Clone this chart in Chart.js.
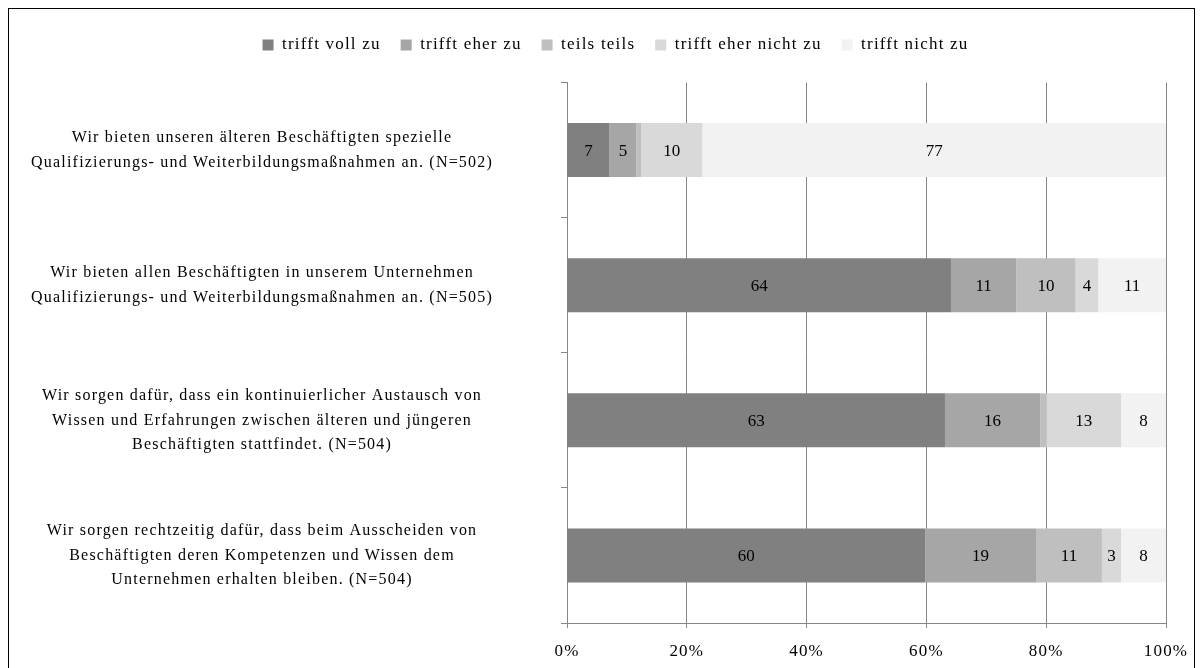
<!DOCTYPE html>
<html>
<head>
<meta charset="utf-8">
<script src="https://cdn.jsdelivr.net/npm/chart.js@4"></script>
<style>
  html, body { margin: 0; padding: 0; background: #fff; }
  /* Rahmen wie im Original */
  .frame {
    position: absolute;
    left: 8px; top: 8px;
    width: 1185px; height: 662px;
    border: 1px solid #000;
    background: #fff;
  }
  .frame canvas { display: block; }
</style>
</head>
<body>
<div class="frame">
  <canvas id="chart" width="1185" height="659"></canvas>
</div>
<script>
// ===== DATEN =====
const statements = [
    ['Wir bieten unseren älteren Beschäftigten spezielle', 'Qualifizierungs- und Weiterbildungsmaßnahmen an. (N=502)'],
    ['Wir bieten allen Beschäftigten in unserem Unternehmen', 'Qualifizierungs- und Weiterbildungsmaßnahmen an. (N=505)'],
    ['Wir sorgen dafür, dass ein kontinuierlicher Austausch von', 'Wissen und Erfahrungen zwischen älteren und jüngeren', 'Beschäftigten stattfindet. (N=504)'],
    ['Wir sorgen rechtzeitig dafür, dass beim Ausscheiden von', 'Beschäftigten deren Kompetenzen und Wissen dem', 'Unternehmen erhalten bleiben. (N=504)']
];

const answerLabels = ['trifft voll zu', 'trifft eher zu', 'teils teils', 'trifft eher nicht zu', 'trifft nicht zu'];

// Anteile in Prozent
const voll      = [7.1, 64.1, 63.1, 59.8];
const eher      = [4.5, 10.9, 15.9, 18.5];
const teils     = [0.8, 9.9, 1.0, 11.0];
const eherNicht = [10.2, 3.8, 12.5, 3.2];
const nicht     = [77.4, 11.3, 7.5, 7.5];

const xTicks = [0, 20, 40, 60, 80, 100];

const barColors = ['#808080', '#a6a6a6', '#bfbfbf', '#d9d9d9', '#f2f2f2'];
const gridColor = '#868686';
const serif = "'Liberation Serif', 'Times New Roman', serif";
const letterSpacing = '1.2px';

// ===== PLUGINS =====
// etwas weitere Laufweite wie im Original (Canvas-Zustand geht bei Resize verloren)
const textSpacing = {
    id: 'textSpacing',
    beforeUpdate(chart) { chart.ctx.letterSpacing = letterSpacing; },
    beforeDraw(chart) { chart.ctx.letterSpacing = letterSpacing; }
};

// Werte mittig in die Balken schreiben
const barValueLabels = {
    id: 'barValueLabels',
    afterDatasetsDraw(chart) {
        const ctx = chart.ctx;
        ctx.save();
        ctx.letterSpacing = '0px';
        ctx.font = '17px ' + serif;
        ctx.fillStyle = '#000';
        ctx.textAlign = 'center';
        ctx.textBaseline = 'middle';
        chart.data.datasets.forEach((ds, di) => {
            const meta = chart.getDatasetMeta(di);
            meta.data.forEach((bar, i) => {
                const v = ds.data[i];
                if (v < 2) return;   // winzige Segmente ohne Zahl
                const p = bar.getProps(['x', 'y', 'base'], true);
                ctx.fillText(String(Math.round(v)), (p.x + p.base) / 2, p.y + 1);
            });
        });
        ctx.restore();
    }
};

// Legende: mehr Abstand nach unten, etwas nach rechts versetzt
const legendTweaks = {
    id: 'legendTweaks',
    beforeInit(chart) {
        const legend = chart.legend;
        const origFit = legend.fit;
        const origDraw = legend.draw;
        legend.fit = function () {
            origFit.call(legend);
            legend.height += 19;
        };
        legend.draw = function () {
            chart.ctx.save();
            chart.ctx.translate(28, 0);
            origDraw.call(legend);
            chart.ctx.restore();
        };
    }
};

// ===== CHART =====
function buildDatasets() {
    const series = [voll, eher, teils, eherNicht, nicht];
    return series.map((data, i) => ({
        label: answerLabels[i],
        data: data,
        backgroundColor: barColors[i],
        borderWidth: 0,
        categoryPercentage: 1,
        barPercentage: 0.4
    }));
}

function initChart() {
    const ctx = document.getElementById('chart');

    new Chart(ctx, {
        type: 'bar',
        data: {
            labels: statements,
            datasets: buildDatasets()
        },
        options: {
            indexAxis: 'y',
            responsive: false,
            animation: false,
            layout: {
                padding: { top: 7.5, left: 0, right: 28, bottom: 0 }
            },
            plugins: {
                legend: {
                    position: 'top',
                    labels: {
                        boxWidth: 11,
                        boxHeight: 11,
                        padding: 20,
                        color: '#000',
                        font: { size: 17, family: serif }
                    }
                },
                tooltip: { enabled: false }
            },
            scales: {
                x: {
                    stacked: true,
                    min: 0,
                    max: 100,
                    afterBuildTicks(scale) {
                        scale.ticks = xTicks.map(v => ({ value: v }));
                    },
                    afterFit(scale) {
                        scale.height = 45;
                        scale.paddingLeft = 0;
                        scale.paddingRight = 0;
                    },
                    grid: {
                        color: gridColor,
                        lineWidth: 1,
                        tickLength: 5
                    },
                    border: { color: gridColor, width: 1 },
                    ticks: {
                        color: '#000',
                        padding: 13,
                        font: { size: 17, family: serif },
                        callback: v => v + '%'
                    }
                },
                y: {
                    stacked: true,
                    afterFit(scale) {
                        scale.width = 558;
                        scale.paddingTop = 0;
                        scale.paddingBottom = 0;
                    },
                    grid: {
                        drawOnChartArea: false,
                        color: gridColor,
                        tickLength: 6
                    },
                    border: { color: gridColor, width: 1 },
                    ticks: {
                        color: '#000',
                        crossAlign: 'center',
                        padding: 68,
                        font: { size: 16, family: serif, lineHeight: 1.55 }
                    }
                }
            }
        },
        plugins: [textSpacing, barValueLabels, legendTweaks]
    });
}

document.addEventListener('DOMContentLoaded', initChart);
</script>
</body>
</html>
